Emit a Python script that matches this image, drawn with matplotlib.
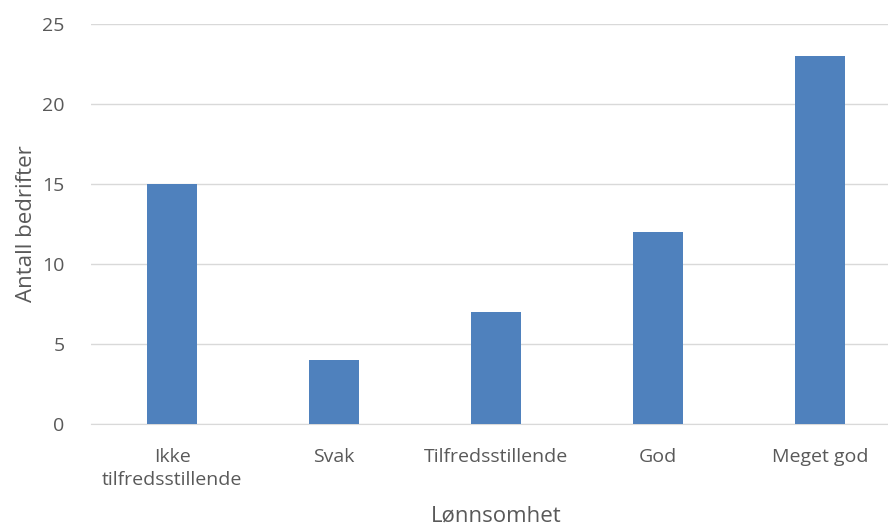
import matplotlib.pyplot as plt

kategorier = ["Ikke\ntilfredsstillende", "Svak", "Tilfredsstillende", "God", "Meget god"]
antall = [15, 4, 7, 12, 23]
yticks = [0, 5, 10, 15, 20, 25]

plt.rcParams['font.family'] = ['Open Sans', 'DejaVu Sans']
tekst = '#595959'

fig = plt.figure(figsize=(8.88, 5.31), dpi=100)
ax = fig.add_axes([0.1025, 0.2015, 0.912, 0.7535])

x = range(len(kategorier))
ax.bar(x, antall, width=0.31, color='#4F81BD', zorder=3)

ax.set_xlim(-0.5, len(kategorier) - 0.5)
ax.set_ylim(0, 25)
ax.set_yticks(yticks)
ax.set_xticks(list(x))
ax.set_xticklabels(kategorier, color=tekst, fontsize=14, linespacing=1.4)
ax.tick_params(axis='y', colors=tekst, labelsize=14, length=0, pad=19)
ax.tick_params(axis='x', length=0, pad=17)
ax.yaxis.grid(True, color='#D9D9D9', linewidth=1, zorder=0)

for s in ['top', 'right', 'left']:
    ax.spines[s].set_visible(False)
ax.spines['bottom'].set_color('#D9D9D9')

ax.set_ylabel('Antall bedrifter', color=tekst, fontsize=16, labelpad=4)
ax.set_xlabel('Lønnsomhet', color=tekst, fontsize=16, labelpad=12)

fig.savefig('out.png', dpi=100)
